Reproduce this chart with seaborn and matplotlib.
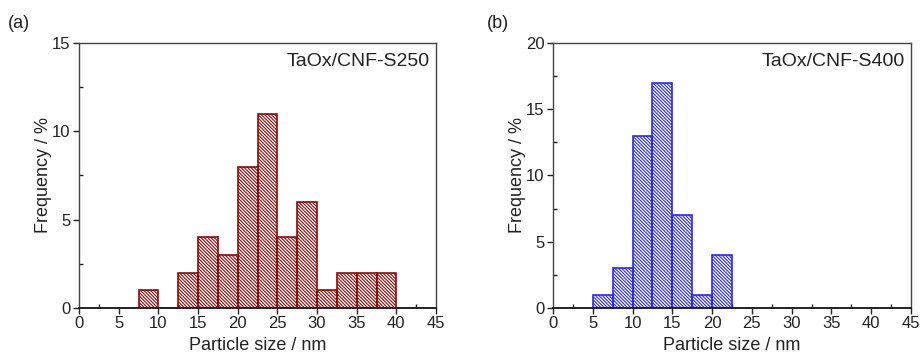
import matplotlib
matplotlib.use("Agg")
import matplotlib.pyplot as plt
import seaborn as sns
import numpy as np
from matplotlib.ticker import MultipleLocator

sns.set_style("ticks")
plt.rcParams['font.family'] = ['Liberation Sans', 'DejaVu Sans']
plt.rcParams['hatch.linewidth'] = 0.8

# Data (bin centres in nm, frequency in %)
s250_centers = [8.75, 13.75, 16.25, 18.75, 21.25, 23.75, 26.25, 28.75, 31.25, 33.75, 36.25, 38.75]
s250_freq = [1, 2, 4, 3, 8, 11, 4, 6, 1, 2, 2, 2]
s400_centers = [6.25, 8.75, 11.25, 13.75, 16.25, 18.75, 21.25]
s400_freq = [1, 3, 13, 17, 7, 1, 4]
bin_width = 2.5
xticks = [0, 5, 10, 15, 20, 25, 30, 35, 40, 45]

panels = [
    dict(centers=s250_centers, freq=s250_freq, color="#8b0a0a", ymax=15,
         label="TaOx/CNF-S250", tag="(a)", tagx=0.0087, pos=[0.0858, 0.1373, 0.3876, 0.7423]),
    dict(centers=s400_centers, freq=s400_freq, color="#2a2ae6", ymax=20,
         label="TaOx/CNF-S400", tag="(b)", tagx=0.529, pos=[0.6004, 0.1373, 0.3887, 0.7423]),
]

fig = plt.figure(figsize=(9.21, 3.57), dpi=100)
for p in panels:
    ax = fig.add_axes(p["pos"])
    sns.histplot(x=p["centers"], weights=p["freq"], binwidth=bin_width,
                 binrange=(min(p["centers"]) - bin_width / 2, max(p["centers"]) + bin_width / 2),
                 ax=ax, fill=True, facecolor="none", edgecolor=p["color"],
                 linewidth=1.2, hatch="\\" * 10)
    ax.set_xlim(0, 45)
    ax.set_ylim(0, p["ymax"])
    ax.set_xticks(xticks)
    ax.xaxis.set_minor_locator(MultipleLocator(2.5))
    ax.yaxis.set_major_locator(MultipleLocator(5))
    ax.yaxis.set_minor_locator(MultipleLocator(2.5))
    ax.tick_params(which="major", direction="out", length=4, width=1, labelsize=12,
                   colors="#222222", pad=2)
    ax.tick_params(which="minor", direction="in", length=3, width=1, color="#222222")
    for s in ax.spines.values():
        s.set_visible(True)
        s.set_linewidth(1.0)
        s.set_color("#444444")
    ax.spines["bottom"].set_color("#222222")
    ax.spines["bottom"].set_linewidth(1.4)
    ax.set_xlabel("Particle size / nm", fontsize=13, labelpad=4, color="#222222")
    ax.set_ylabel("Frequency / %", fontsize=13, labelpad=0, color="#222222")
    ax.text(0.983, 0.932, p["label"], transform=ax.transAxes, ha="right", va="center",
            fontsize=14, color="#222222")
    fig.text(p["tagx"], 0.935, p["tag"], fontsize=13, ha="left", va="center",
             color="#222222")

fig.savefig("out.png", dpi=100)
